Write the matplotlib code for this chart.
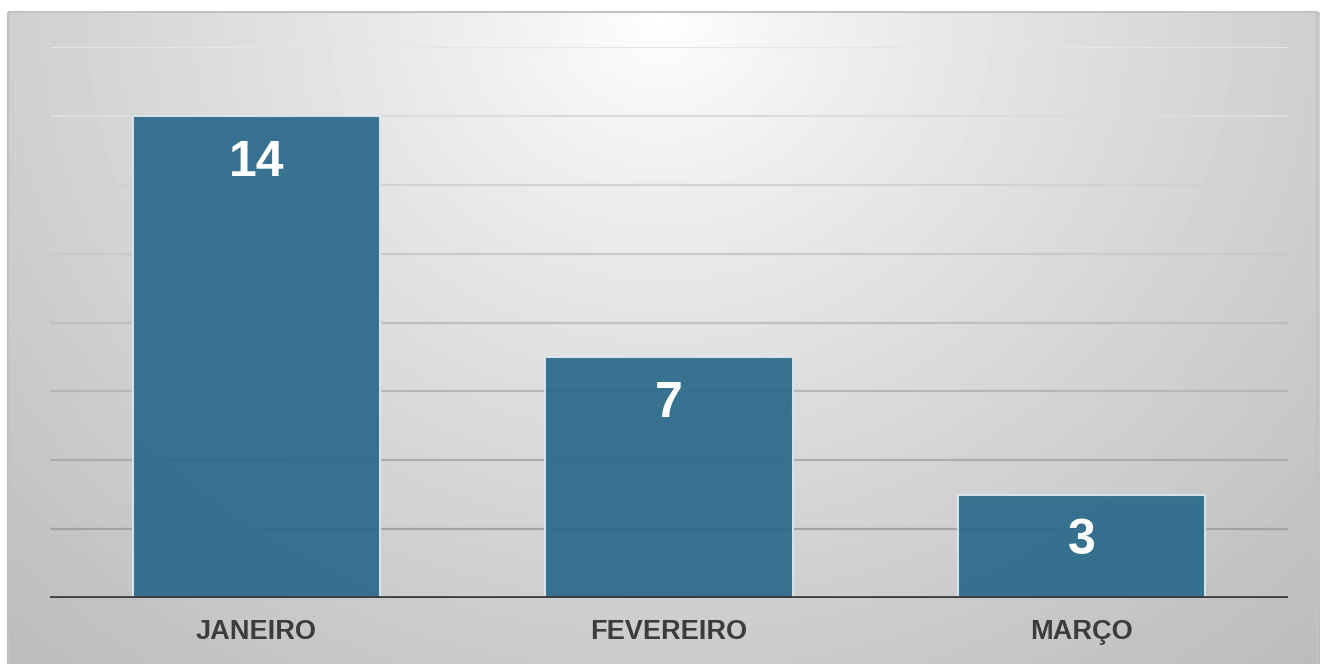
import numpy as np
import matplotlib
matplotlib.use("Agg")
import matplotlib.pyplot as plt
from matplotlib.patches import Rectangle

# ---------------------------------------------------------------------------
# Data
# ---------------------------------------------------------------------------
meses = ["JANEIRO", "FEVEREIRO", "MARÇO"]
valores = [14, 7, 3]
y_ticks = [0, 2, 4, 6, 8, 10, 12, 14, 16]

BAR_COLOR = "#2c6b8b"
TEXT_DARK = "#3c3c3c"

W, H = 1320, 664
fig = plt.figure(figsize=(W / 100, H / 100), dpi=100)
fig.patch.set_facecolor("white")

# background panel with radial gradient (light at top centre)
bg = fig.add_axes([0, 0, 1, 1])
bg.set_xlim(0, W)
bg.set_ylim(H, 0)
bg.axis("off")
x0, y0 = 8, 12
xx, yy = np.meshgrid(np.arange(x0, W), np.arange(y0, H))
d = np.sqrt(((xx - 660) / 720.0) ** 2 + ((yy - 20) / 640.0) ** 2)
grad = np.clip(255 - 52 * d ** 0.85, 185, 255) / 255.0
bg.imshow(grad, cmap="gray", vmin=0, vmax=1, extent=(x0, W, H, y0),
          interpolation="bilinear", aspect="auto")
bg.add_patch(Rectangle((x0, y0), W - x0 - 3, H - y0 + 5, fill=False,
                       edgecolor="#c2c2c2", linewidth=1.5))

# main chart
left, right = 50, 1288
top, bottom = 47, 598
ax = fig.add_axes([left / W, (H - bottom) / H, (right - left) / W, (bottom - top) / H])
ax.patch.set_alpha(0)

# gridlines, lighter toward the bright top of the panel
for t in y_ticks[1:]:
    g = 0.60 + 0.30 * (t / y_ticks[-1])
    ax.axhline(t, color=(g, g, g), linewidth=1.6, zorder=1)

x = np.arange(len(meses))
bars = ax.bar(x, valores, width=0.6, color=BAR_COLOR, alpha=0.94,
              edgecolor="#dbe7ee", linewidth=1.5, zorder=2)

for b, v in zip(bars, valores):
    ax.annotate(str(v), (b.get_x() + b.get_width() / 2, v),
                xytext=(0, -43), textcoords="offset points",
                ha="center", va="baseline", color="white",
                fontsize=36, fontweight="bold", family="Liberation Sans", zorder=4)

ax.axhline(0, color=TEXT_DARK, linewidth=3.4, zorder=3)

ax.set_xlim(-0.5, 2.5)
ax.set_ylim(0, 16)
ax.set_xticks(x)
ax.set_xticklabels(meses, fontsize=19.5, fontweight="bold", color=TEXT_DARK,
                   family="Liberation Sans")
ax.tick_params(axis="x", length=0, pad=15)
ax.set_yticks([])
for s in ax.spines.values():
    s.set_visible(False)

fig.savefig("out.png", dpi=100)
